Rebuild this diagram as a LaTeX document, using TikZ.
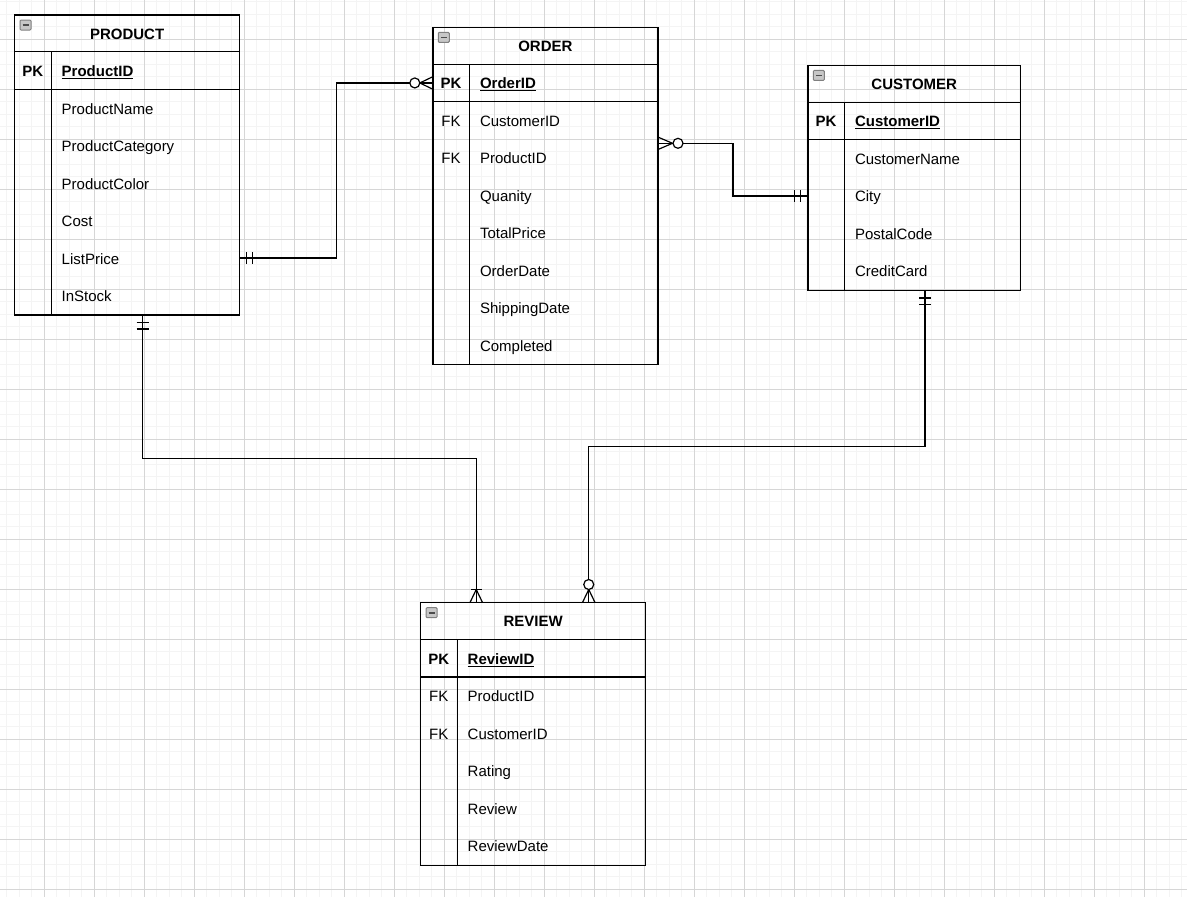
\documentclass[tikz,border=0pt]{standalone}
\usepackage{fontspec}
\setmainfont{Liberation Sans}
\usetikzlibrary{calc}
\definecolor{racskicsi}{HTML}{F4F4F4}
\definecolor{racsnagy}{HTML}{D6D6D6}

\begin{document}
\begin{tikzpicture}[x=1pt,y=-1pt,
		tabla/.style={draw,line width=1.2pt,anchor=north west,inner sep=0pt,minimum width=225pt},
		vonal/.style={line width=1.2pt},
		felirat/.style={font=\fontsize{15}{18}\selectfont,text height=12pt,text depth=0pt,inner sep=0pt},
		cim/.style={felirat,font=\fontsize{15}{18}\selectfont\bfseries},
		mezo/.style={felirat,anchor=west},
		ikon/.style={draw=black!50,line width=1pt,fill=black!22,rounded corners=1pt,minimum width=11pt,minimum height=10pt,inner sep=0pt,
			path picture={\draw[black!70,line width=1.6pt] ([xshift=2.5pt]path picture bounding box.west) -- ([xshift=-2.5pt]path picture bounding box.east);}},
		kapcs/.style={line width=1.2pt}]
	\useasboundingbox (0,0) rectangle (1187,897);
	
	% rácsvonalak
	\begin{scope}
		\clip (0,0) rectangle (1187,897);
		\foreach \x in {6.8,19.3,...,1190} \draw[racskicsi,line width=1pt] (\x,0) -- (\x,897);
		\foreach \y in {1.8,14.3,...,900} \draw[racskicsi,line width=1pt] (0,\y) -- (1187,\y);
		\foreach \x in {44.3,94.3,...,1190} \draw[racsnagy,line width=1pt] (\x,0) -- (\x,897);
		\foreach \y in {39.3,89.3,...,900} \draw[racsnagy,line width=1pt] (0,\y) -- (1187,\y);
	\end{scope}
	
	% PRODUCT
	\node[tabla,minimum height=300pt] (product) at (14,14.3) {};
	\draw[vonal] ($(product.north west)+(0,37.5)$) -- ($(product.north east)+(0,37.5)$)
		($(product.north west)+(0,75)$) -- ($(product.north east)+(0,75)$)
		($(product.north west)+(37.5,37.5)$) -- ($(product.south west)+(37.5,0)$);
	\node[ikon] (product-ikon) at ($(product.north west)+(11.5,10.7)$) {};
	\node[cim] (product-cim) at ($(product.north)+(0,18.75)$) {PRODUCT};
	\node[cim] (product-pk) at ($(product.north west)+(18.75,56.25)$) {PK};
	\node[mezo,font=\fontsize{15}{18}\selectfont\bfseries] (p0) at ($(product.north west)+(47.5,56.25)$) {\underline{ProductID}};
	\foreach \nev [count=\i] in {ProductName,ProductCategory,ProductColor,Cost,ListPrice,InStock}
		\node[mezo] (p\i) at ($(product.north west)+(47.5,{56.25+37.5*\i})$) {\nev};
	
	% ORDER
	\node[tabla,minimum height=337.5pt] (order) at (432.3,26.7) {};
	\draw[vonal] ($(order.north west)+(0,37.5)$) -- ($(order.north east)+(0,37.5)$)
		($(order.north west)+(0,75)$) -- ($(order.north east)+(0,75)$)
		($(order.north west)+(37.5,37.5)$) -- ($(order.south west)+(37.5,0)$);
	\node[ikon] (order-ikon) at ($(order.north west)+(11.5,10.7)$) {};
	\node[cim] (order-cim) at ($(order.north)+(0,18.75)$) {ORDER};
	\node[cim] (order-pk) at ($(order.north west)+(18.75,56.25)$) {PK};
	\node[felirat] (order-fk1) at ($(order.north west)+(18.75,93.75)$) {FK};
	\node[felirat] (order-fk2) at ($(order.north west)+(18.75,131.25)$) {FK};
	\node[mezo,font=\fontsize{15}{18}\selectfont\bfseries] (o0) at ($(order.north west)+(47.5,56.25)$) {\underline{OrderID}};
	\foreach \nev [count=\i] in {CustomerID,ProductID,Quanity,TotalPrice,OrderDate,ShippingDate,Completed}
		\node[mezo] (o\i) at ($(order.north west)+(47.5,{56.25+37.5*\i})$) {\nev};
	
	% CUSTOMER
	\node[tabla,minimum width=212.7pt,minimum height=225pt] (customer) at (807.3,64.7) {};
	\draw[vonal] ($(customer.north west)+(0,37.5)$) -- ($(customer.north east)+(0,37.5)$)
		($(customer.north west)+(0,75)$) -- ($(customer.north east)+(0,75)$)
		($(customer.north west)+(37.5,37.5)$) -- ($(customer.south west)+(37.5,0)$);
	\node[ikon] (customer-ikon) at ($(customer.north west)+(11.5,10.7)$) {};
	\node[cim] (customer-cim) at ($(customer.north)+(0,18.75)$) {CUSTOMER};
	\node[cim] (customer-pk) at ($(customer.north west)+(18.75,56.25)$) {PK};
	\node[mezo,font=\fontsize{15}{18}\selectfont\bfseries] (c0) at ($(customer.north west)+(47.5,56.25)$) {\underline{CustomerID}};
	\foreach \nev [count=\i] in {CustomerName,City,PostalCode,CreditCard}
		\node[mezo] (c\i) at ($(customer.north west)+(47.5,{56.25+37.5*\i})$) {\nev};
	
	% REVIEW
	\node[tabla,minimum height=262.5pt] (review) at (420,602) {};
	\draw[vonal] ($(review.north west)+(0,37.5)$) -- ($(review.north east)+(0,37.5)$)
		($(review.north west)+(0,75)$) -- ($(review.north east)+(0,75)$)
		($(review.north west)+(37.5,37.5)$) -- ($(review.south west)+(37.5,0)$);
	\node[ikon] (review-ikon) at ($(review.north west)+(11.5,10.7)$) {};
	\node[cim] (review-cim) at ($(review.north)+(0,18.75)$) {REVIEW};
	\node[cim] (review-pk) at ($(review.north west)+(18.75,56.25)$) {PK};
	\node[felirat] (review-fk1) at ($(review.north west)+(18.75,93.75)$) {FK};
	\node[felirat] (review-fk2) at ($(review.north west)+(18.75,131.25)$) {FK};
	\node[mezo,font=\fontsize{15}{18}\selectfont\bfseries] (r0) at ($(review.north west)+(47.5,56.25)$) {\underline{ReviewID}};
	\foreach \nev [count=\i] in {ProductID,CustomerID,Rating,Review,ReviewDate}
		\node[mezo] (r\i) at ($(review.north west)+(47.5,{56.25+37.5*\i})$) {\nev};
	
	% kapcsolatok végpontjai
	\coordinate (k1a) at (product.east |- p5);
	\coordinate (k1b) at (order.west |- order-pk);
	\coordinate (k2a) at ($(order.north east)+(0,116.6)$);
	\coordinate (k2b) at (customer.west |- c2);
	\coordinate (k3a) at ($(product.south west)+(128.7,0)$);
	\coordinate (k3b) at ($(review.north west)+(56.25,0)$);
	\coordinate (k4a) at ($(customer.south west)+(117.7,0)$);
	\coordinate (k4b) at ($(review.north west)+(168.75,0)$);
	
	% vonalak
	\draw[kapcs] (k1a) -| ($(k1a)!.5!(k1b)$) |- (k1b);
	\draw[kapcs] (k2a) -| ($(k2a)!.5!(k2b)$) |- (k2b);
	\draw[kapcs] (k3a) |- ($(k3a)!.5!(k3b)$) -| (k3b);
	\draw[kapcs] (k4a) |- ($(k4a)!.5!(k4b)$) -| (k4b);
	
	% PRODUCT - ORDER
	\draw[kapcs] ([xshift=6.5pt]k1a) +(0,-6) -- +(0,6) ([xshift=12.5pt]k1a) +(0,-6) -- +(0,6);
	\draw[kapcs] ([yshift=6pt]k1b) -- ([xshift=-12.5pt]k1b) -- ([yshift=-6pt]k1b);
	\draw[kapcs,fill=white] ([xshift=-17.5pt]k1b) circle (5pt);
	
	% ORDER - CUSTOMER
	\draw[kapcs] ([yshift=6pt]k2a) -- ([xshift=14pt]k2a) -- ([yshift=-6pt]k2a);
	\draw[kapcs,fill=white] ([xshift=19.5pt]k2a) circle (5pt);
	\draw[kapcs] ([xshift=-6.5pt]k2b) +(0,-6) -- +(0,6) ([xshift=-12.5pt]k2b) +(0,-6) -- +(0,6);
	
	% PRODUCT - REVIEW
	\draw[kapcs] ([yshift=-7pt]k3a) +(-6,0) -- +(6,0) ([yshift=-13.5pt]k3a) +(-6,0) -- +(6,0);
	\draw[kapcs] ([xshift=-6pt]k3b) -- ([yshift=12.5pt]k3b) -- ([xshift=6pt]k3b);
	\draw[kapcs] ([yshift=12.5pt]k3b) +(-5.5,0) -- +(5.5,0);
	
	% CUSTOMER - REVIEW
	\draw[kapcs] ([yshift=-7pt]k4a) +(-6,0) -- +(6,0) ([yshift=-13.5pt]k4a) +(-6,0) -- +(6,0);
	\draw[kapcs] ([xshift=-6pt]k4b) -- ([yshift=12.5pt]k4b) -- ([xshift=6pt]k4b);
	\draw[kapcs,fill=white] ([yshift=17.5pt]k4b) circle (5pt);
	
\end{tikzpicture}
\end{document}
